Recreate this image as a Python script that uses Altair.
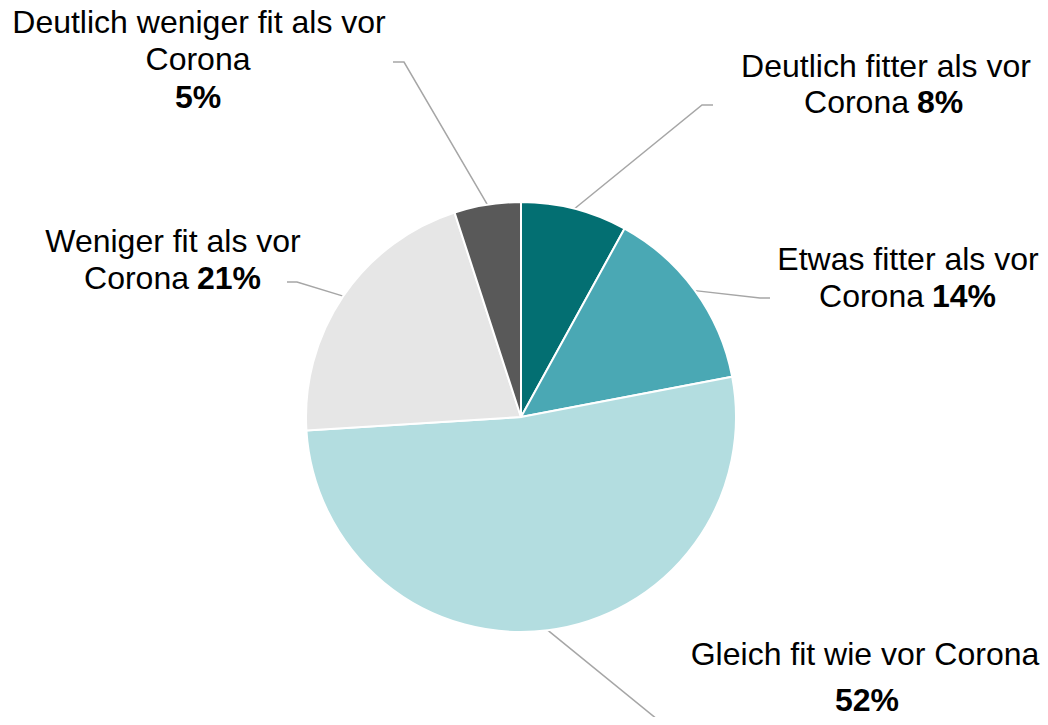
import altair as alt
import numpy as np
import pandas as pd

# ---- data ----
categories = [
    "Deutlich fitter als vor Corona",
    "Etwas fitter als vor Corona",
    "Gleich fit wie vor Corona",
    "Weniger fit als vor Corona",
    "Deutlich weniger fit als vor Corona",
]
values = [8, 14, 52, 21, 5]
colors = ["#036F72", "#4AA8B4", "#B3DDE0", "#E6E6E6", "#595959"]

# label text lines (normal text, bold text) per slice
label_lines = [
    [("Deutlich fitter als vor", ""), ("Corona", "8%")],
    [("Etwas fitter als vor", ""), ("Corona", "14%")],
    [("Gleich fit wie vor Corona", ""), ("", "52%")],
    [("Weniger fit als vor", ""), ("Corona", "21%")],
    [("Deutlich weniger fit als vor", ""), ("Corona", ""), ("", "5%")],
]

# ---- layout (page pixel coordinates) ----
W, H = 1032, 709
CX, CY, R = 521, 417, 215
FONT = "Liberation Sans"
FS = 32

# label anchor per line: (x_center_or_split, baseline)
label_pos = [
    [(886, 77), (913, 113)],
    [(908, 270), (928, 307)],
    [(865, 665), (867, 711)],
    [(173, 252), (193, 289)],
    [(199, 33), (198, 70), (198, 108)],
]
# leader line elbow / end points
leader_pts = [
    [(702, 105), (713, 105)],
    [(760, 298), (770, 298)],
    [(663, 724), (673, 724)],
    [(297, 282), (287, 282)],
    [(404, 62), (393, 62)],
]

pie_df = pd.DataFrame({"category": categories, "value": values, "order": range(len(values))})

# leader lines: start at slice mid-angle on pie edge
cum = np.cumsum([0] + values[:-1])
rows = []
for i, (c, v) in enumerate(zip(categories, values)):
    mid = (cum[i] + v / 2) / sum(values) * 2 * np.pi
    sx, sy = CX + R * np.sin(mid), CY - R * np.cos(mid)
    pts = [(sx, sy)] + leader_pts[i]
    for k, (px, py) in enumerate(pts):
        rows.append({"category": c, "step": k, "x": px, "y": py})
lead_df = pd.DataFrame(rows)

trows = []
for i, lines in enumerate(label_lines):
    for j, (normal, bold) in enumerate(lines):
        px, py = label_pos[i][j]
        if normal and bold:
            trows.append({"t": normal, "x": px - 4, "y": py, "w": "normal", "a": "right"})
            trows.append({"t": bold, "x": px + 4, "y": py, "w": "bold", "a": "left"})
        elif normal:
            trows.append({"t": normal, "x": px, "y": py, "w": "normal", "a": "center"})
        else:
            trows.append({"t": bold, "x": px, "y": py, "w": "bold", "a": "center"})
text_df = pd.DataFrame(trows)

xs = alt.Scale(domain=[8, 8 + W], nice=False, zero=False)
ys = alt.Scale(domain=[8 + H, 8], nice=False, zero=False)

pie = alt.Chart(pie_df).mark_arc(radius=R, stroke="white", strokeWidth=2).encode(
    theta=alt.Theta("value:Q", stack=True),
    order=alt.Order("order:Q"),
    color=alt.Color("category:N", scale=alt.Scale(domain=categories, range=colors), legend=None),
    x=alt.value(CX - 8),
    y=alt.value(CY - 8),
)

leaders = alt.Chart(lead_df).mark_line(color="#A6A6A6", strokeWidth=1.5).encode(
    x=alt.X("x:Q", scale=xs, axis=None),
    y=alt.Y("y:Q", scale=ys, axis=None),
    detail="category:N",
    order="step:Q",
)

def text_layer(weight, align):
    d = text_df[(text_df.w == weight) & (text_df.a == align)]
    return alt.Chart(d).mark_text(
        font=FONT, fontSize=FS, fontWeight=weight, align=align, baseline="alphabetic", color="#000000"
    ).encode(
        x=alt.X("x:Q", scale=xs, axis=None),
        y=alt.Y("y:Q", scale=ys, axis=None),
        text="t:N",
    )

texts = [text_layer(w, a) for w in ["normal", "bold"] for a in ["left", "center", "right"]
         if len(text_df[(text_df.w == w) & (text_df.a == a)])]

chart = alt.layer(leaders, pie, *texts).properties(
    width=W, height=H, padding=0, background="white",
    autosize=alt.AutoSizeParams(type="none"),
).configure_view(stroke=None)

chart.save("out.html", embed_options={"renderer": "svg", "actions": False})
